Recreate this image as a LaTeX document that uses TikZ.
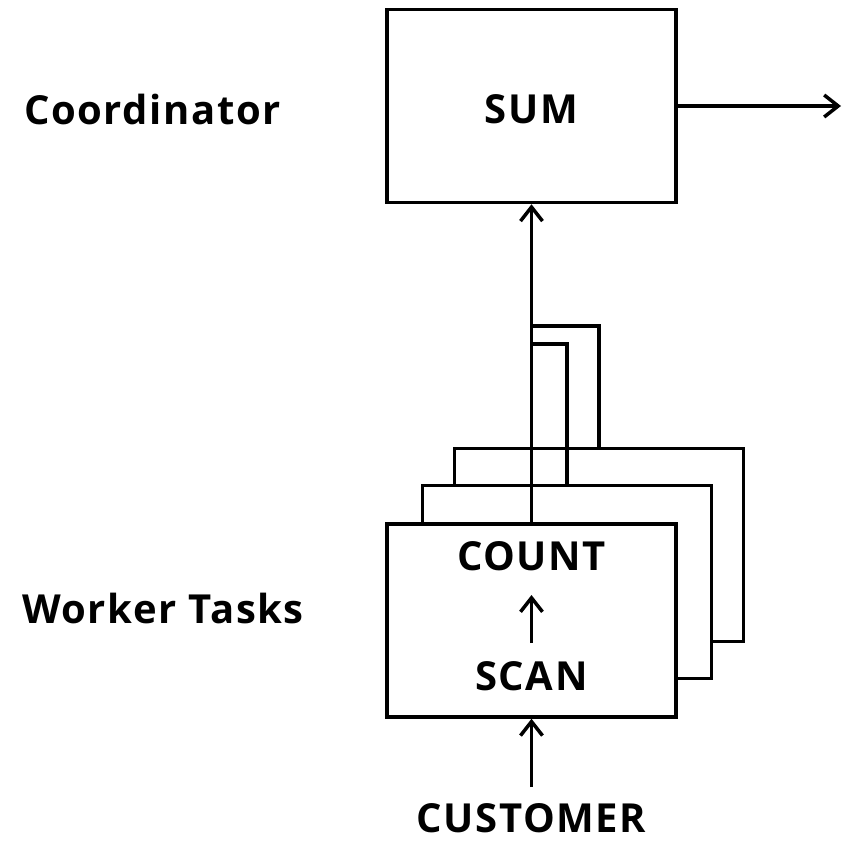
\documentclass[tikz,border=0pt]{standalone}
\usepackage{fontspec}
\setmainfont{Open Sans}[LetterSpace=4]
\usetikzlibrary{arrows.meta,positioning}

\begin{document}
\begin{tikzpicture}[x=1pt, y={(0pt,-1pt)},
        box/.style={rectangle, draw, fill=white, line width=3.5pt, minimum width=289pt, minimum height=193pt, inner sep=0pt},
        label/.style={font=\fontsize{40}{44}\selectfont\bfseries, inner sep=0pt, anchor=base},
        arrow/.style={-{Straight Barb[length=14pt, width=22pt, line width'=3.5pt]}, line width=3.5pt},
        link/.style={line width=3.5pt}]
        \useasboundingbox (0,0) rectangle (844,842);

        % coordinator
        \node[box] (sum) at (531.5,106) {};
        \node[label] (sumtext) at (531.5,124) {SUM};
        \node[label, anchor=base west] (coord) at (24,125) {Coordinator};
        \coordinate (out) at (841,106);

        % worker tasks, back to front
        \node[box] (back) at (599,545) {};
        \node[box] (mid) at (567,582) {};
        \node[box] (front) at (531.5,620.5) {};
        \node[label] (count) at (531.5,570) {COUNT};
        \node[label] (scan) at (531.5,690) {SCAN};
        \node[label, anchor=base west] (worker) at (22,623) {Worker Tasks};
        \node[label] (customer) at (531.5,832) {CUSTOMER};

        \draw[arrow] (sum.east) -- (out);
        \draw[arrow] (front.north) -- (sum.south);
        \draw[link] (mid.north) |- (531.5,344);
        \draw[link] (back.north) |- (531.5,326);
        \draw[arrow] (scan.north |- 0,643) -- (count.south |- 0,595);
        \draw[arrow] (customer.north |- 0,787) -- (front.south);
    \end{tikzpicture}
\end{document}
